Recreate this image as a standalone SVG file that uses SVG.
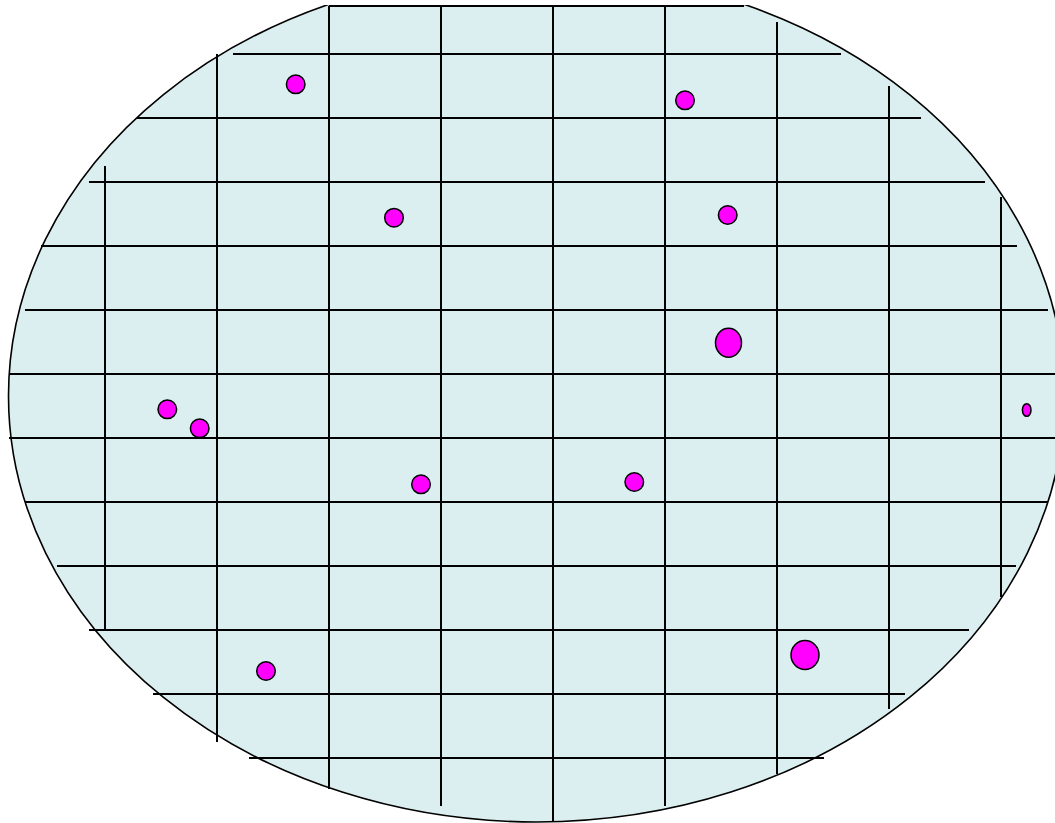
<svg xmlns="http://www.w3.org/2000/svg" width="1055" height="823" viewBox="0 0 1055 823">
<style>
.grid line{stroke:#000;stroke-width:2;fill:none}
.dot{fill:#FF00FF;stroke:#000;stroke-width:1.5}
</style>
<defs>
<clipPath id="cut"><rect x="0" y="5" width="1100" height="830"/></clipPath>
</defs>
<rect width="1055" height="823" fill="#FFFFFF"/>
<g id="wafer" clip-path="url(#cut)">
<ellipse cx="536.5" cy="396" rx="528" ry="426" fill="#DBEEF0" stroke="#000" stroke-width="1.6"/>
</g>
<g id="grid" class="grid">
<line x1="329" y1="6" x2="744" y2="6"/>
<line x1="233" y1="54" x2="841" y2="54"/>
<line x1="137" y1="118" x2="921" y2="118"/>
<line x1="89" y1="182" x2="985" y2="182"/>
<line x1="41" y1="246" x2="1017" y2="246"/>
<line x1="25" y1="310" x2="1048" y2="310"/>
<line x1="9" y1="374" x2="1055" y2="374"/>
<line x1="9" y1="438" x2="1055" y2="438"/>
<line x1="25" y1="502" x2="1048" y2="502"/>
<line x1="57" y1="566" x2="1016" y2="566"/>
<line x1="89" y1="630" x2="969" y2="630"/>
<line x1="153" y1="694" x2="905" y2="694"/>
<line x1="249" y1="758" x2="824" y2="758"/>
<line x1="105" y1="166" x2="105" y2="630"/>
<line x1="217" y1="54" x2="217" y2="742"/>
<line x1="329" y1="6" x2="329" y2="789"/>
<line x1="441" y1="6" x2="441" y2="806"/>
<line x1="553" y1="6" x2="553" y2="821"/>
<line x1="665" y1="6" x2="665" y2="806"/>
<line x1="777" y1="22" x2="777" y2="774"/>
<line x1="889" y1="86" x2="889" y2="709"/>
<line x1="1001" y1="197" x2="1001" y2="597"/>
</g>
<g id="defects">
<circle class="dot" cx="295.7" cy="84.3" r="9.3"/>
<circle class="dot" cx="394" cy="217.7" r="9.3"/>
<circle class="dot" cx="685" cy="100.3" r="9.3"/>
<circle class="dot" cx="727.7" cy="215" r="9.3"/>
<ellipse class="dot" cx="728.5" cy="342.7" rx="13" ry="14.5"/>
<circle class="dot" cx="167.3" cy="409.3" r="9.3"/>
<circle class="dot" cx="199.7" cy="428.3" r="9.3"/>
<circle class="dot" cx="421" cy="484.3" r="9.3"/>
<circle class="dot" cx="634.3" cy="482" r="9.3"/>
<ellipse class="dot" cx="1026.7" cy="410" rx="4.3" ry="6.3"/>
<circle class="dot" cx="266" cy="671" r="9.3"/>
<ellipse class="dot" cx="805" cy="655" rx="14" ry="14.5"/>
</g>
</svg>
